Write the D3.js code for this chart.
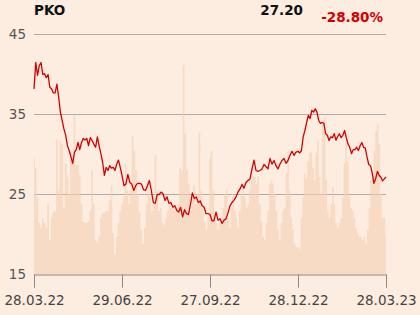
<!DOCTYPE html>
<html>
<head>
<meta charset="utf-8">
<script src="https://cdn.jsdelivr.net/npm/d3@7"></script>
<style>
  body { margin: 0; background: #fcede0; }
  svg { display: block; font-family: "DejaVu Sans", sans-serif; }
</style>
</head>
<body>
<div id="chart"></div>
<script>
// PKO - one year price with volume behind it

var ticker = "PKO";
var lastPrice = "27.20";
var change = "-28.80%";

var dateLabels = ["28.03.22", "29.06.22", "27.09.22", "28.12.22", "28.03.23"];
var priceTicks = [15, 25, 35, 45];

// closing prices, one list per quarter (between two date labels)
var priceQ1 = [38.2, 41.5, 39.9, 41.1, 41.5, 40.0, 40.1, 39.6, 40.0, 38.4, 38.2, 37.7, 37.7, 38.8, 37.2, 35.3, 34.25, 33.2, 32.4, 31.1,
  30.5, 29.7, 28.9, 30.3, 30.6, 31.5, 30.6, 31.5, 32.0, 31.8, 32.0, 31.1, 32.1, 31.75, 31.3, 30.9, 32.2, 31.1, 30.1, 29.0,
  27.4, 28.4, 28.0, 28.6, 28.3, 28.4, 28.0, 28.8, 29.3, 28.4];
var priceQ2 = [27.4, 26.1, 26.3, 27.5, 26.5, 26.3, 25.5, 26.1, 26.4, 26.4, 26.3, 25.6, 25.5, 26.1, 26.75, 25.5, 24.0, 23.9, 25.0, 25.0,
  25.3, 25.1, 24.25, 24.7, 23.9, 24.0, 23.4, 23.6, 23.0, 22.8, 23.4, 22.2, 23.1, 22.6, 22.5, 23.75, 25.2, 24.5, 24.7, 24.0,
  24.2, 23.6, 23.4, 22.6, 22.6];
var priceQ3 = [22.5, 21.7, 21.75, 22.8, 21.8, 21.95, 21.4, 21.8, 21.95, 22.7, 23.6, 24.0, 24.3, 24.7, 25.3, 25.7, 26.25, 25.8, 26.5, 26.75,
  26.95, 28.2, 29.3, 28.0, 27.9, 28.0, 28.2, 28.75, 28.5, 28.2, 29.5, 28.8, 29.25, 28.6, 28.2, 28.8, 29.25, 29.5, 28.9, 29.25,
  29.9, 30.4, 29.9, 30.3];
var priceQ4 = [30.4, 30.2, 30.5, 32.2, 33.0, 34.0, 34.9, 34.5, 35.5, 35.3, 35.7, 35.3, 34.25, 33.9, 34.0, 33.9, 32.6, 32.4, 31.75, 32.2,
  32.1, 32.6, 31.8, 32.25, 32.6, 32.1, 32.4, 33.0, 32.1, 31.3, 30.9, 30.1, 30.6, 30.6, 30.9, 30.5, 31.1, 31.5, 30.9, 30.8,
  29.7, 28.75, 28.6, 27.7, 26.4, 26.95, 27.9, 27.4, 27.2, 26.7, 26.95, 27.2];

// daily volume (mln shares), one list per quarter
var volQ1 = [6.8, 6.2, 4.5, 3.0, 2.7, 3.3, 3.0, 2.7, 4.1, 2.0, 3.3, 3.6, 3.7, 7.9, 4.9, 7.8, 7.6, 3.9, 6.5, 5.7,
  4.7, 7.2, 6.6, 9.3, 6.4, 6.4, 5.8, 4.1, 3.1, 3.0, 3.0, 3.1, 3.7, 6.1, 4.1, 2.0, 1.9, 2.2, 3.3, 3.6,
  3.6, 3.7, 3.7, 4.3, 5.2, 2.4, 1.2, 2.2, 3.0, 3.7];
var volQ2 = [4.1, 4.5, 6.5, 4.9, 4.1, 4.9, 8.1, 7.2, 6.1, 4.7, 3.6, 2.6, 1.8, 2.7, 4.1, 5.3, 4.5, 3.7, 4.5, 7.0,
  4.9, 3.7, 3.9, 3.0, 2.9, 3.3, 3.7, 4.1, 3.9, 3.9, 3.7, 3.9, 4.1, 6.2, 6.1, 12.2, 8.2, 6.1, 5.3, 3.7,
  4.5, 5.2, 4.1, 4.7, 8.3, 4.9, 3.9, 3.1, 2.6, 3.3];
var volQ3 = [6.8, 7.2, 4.9, 3.3, 3.0, 2.6, 3.0, 3.3, 3.9, 4.7, 4.9, 3.3, 2.7, 3.9, 4.7, 3.7, 3.3, 2.7, 3.7, 4.7,
  5.3, 4.5, 3.9, 4.1, 4.9, 5.5, 5.7, 5.7, 5.3, 5.7, 4.1, 3.1, 2.2, 2.0, 3.0, 3.7, 5.3, 5.5, 5.3, 4.7,
  3.7, 2.6, 2.0, 3.0, 3.7, 3.9, 5.9, 7.2, 4.9, 3.3, 2.6, 1.8, 1.6];
var volQ4 = [1.6, 1.5, 3.3, 4.5, 5.9, 5.6, 6.6, 7.1, 7.1, 6.2, 5.5, 7.1, 7.8, 5.7, 4.7, 9.0, 9.2, 5.5, 3.7, 3.3,
  4.1, 5.1, 4.1, 3.0, 2.7, 3.0, 3.3, 4.5, 6.5, 8.0, 6.6, 4.5, 3.9, 3.7, 3.3, 2.7, 2.4, 2.2, 2.2, 2.0,
  2.2, 1.8, 2.6, 3.9, 5.5, 5.7, 7.2, 8.4, 8.8, 7.6, 4.7, 3.3, 3.3, 2.2];

var svgWidth = 420;
var svgHeight = 315;

var margin = { top: 34.5, right: 34, bottom: 40.5, left: 34 };
var width = svgWidth - margin.left - margin.right;
var height = svgHeight - margin.top - margin.bottom;

var svg = d3.select("#chart")
  .append("svg")
  .attr("width", svgWidth)
  .attr("height", svgHeight);

svg.append("rect")
  .attr("width", svgWidth)
  .attr("height", svgHeight)
  .attr("fill", "#fcede0");

var chart = svg.append("g")
  .attr("transform", `translate(${margin.left}, ${margin.top})`);

// x scale per series: quarter boundaries land on the date ticks
function quarterScale(parts) {
  var starts = [0];
  parts.forEach(function (p, i) {
    starts.push(starts[i] + p.length);
  });
  starts[starts.length - 1] -= 1;
  return d3.scaleLinear()
    .domain(starts)
    .range(starts.map((d, i) => i * width / parts.length));
}

var priceParts = [priceQ1, priceQ2, priceQ3, priceQ4];
var volParts = [volQ1, volQ2, volQ3, volQ4];
var prices = [].concat(...priceParts);
var volumes = [].concat(...volParts);

var xPrice = quarterScale(priceParts);
var xVol = quarterScale(volParts);
var xTicks = d3.scaleLinear().domain([0, dateLabels.length - 1]).range([0, width]);

var y = d3.scaleLinear().domain([15, 45]).range([height, 0]);
var yVol = d3.scaleLinear().domain([0, 14]).range([height, 0]);

// grid lines
chart.append("g")
  .selectAll("line")
  .data(priceTicks.filter(d => d > 15))
  .enter()
  .append("line")
  .attr("x1", 0)
  .attr("x2", width)
  .attr("y1", d => y(d))
  .attr("y2", d => y(d))
  .attr("stroke", "#b3aca6")
  .attr("stroke-width", 1);

// volume area, stepped, over the grid
chart.append("path")
  .datum(volumes)
  .attr("fill", "#f5cfb3")
  .attr("fill-opacity", 0.6)
  .attr("d", d3.area()
    .curve(d3.curveStep)
    .x((d, i) => xVol(i))
    .y0(height)
    .y1(d => yVol(d)));

// y labels
chart.append("g")
  .selectAll("text")
  .data(priceTicks)
  .enter()
  .append("text")
  .attr("x", -8)
  .attr("y", d => y(d))
  .attr("dy", "0.36em")
  .attr("text-anchor", "end")
  .attr("font-size", "13.5px")
  .attr("fill", "#555")
  .text(d => d);

// bottom axis
var xAxis = d3.axisBottom(xTicks)
  .tickValues(d3.range(dateLabels.length))
  .tickFormat(i => dateLabels[i])
  .tickSize(13)
  .tickPadding(8);

var xAxisG = chart.append("g")
  .attr("transform", `translate(0,${height})`)
  .call(xAxis);

xAxisG.select(".domain").attr("stroke", "#8a8a8a");
xAxisG.selectAll(".tick line").attr("stroke", "#8a8a8a");
xAxisG.selectAll(".tick text")
  .attr("font-family", "DejaVu Sans, sans-serif")
  .attr("font-size", "13.5px")
  .attr("fill", "#444");

// price line
chart.append("path")
  .datum(prices)
  .attr("fill", "none")
  .attr("stroke", "#d40000")
  .attr("stroke-width", 1.3)
  .attr("stroke-linejoin", "round")
  .attr("d", d3.line()
    .x((d, i) => xPrice(i))
    .y(d => y(d)));

// header
svg.append("text")
  .attr("x", 34)
  .attr("y", 15)
  .attr("font-size", "13.5px")
  .attr("font-weight", "bold")
  .attr("fill", "#111")
  .text(ticker);

svg.append("text")
  .attr("x", 303)
  .attr("y", 14.5)
  .attr("text-anchor", "end")
  .attr("font-size", "13.5px")
  .attr("font-weight", "bold")
  .attr("fill", "#111")
  .text(lastPrice);

svg.append("text")
  .attr("x", 383)
  .attr("y", 21.5)
  .attr("text-anchor", "end")
  .attr("font-size", "13.5px")
  .attr("font-weight", "bold")
  .attr("fill", "#d40000")
  .text(change);
</script>
</body>
</html>
